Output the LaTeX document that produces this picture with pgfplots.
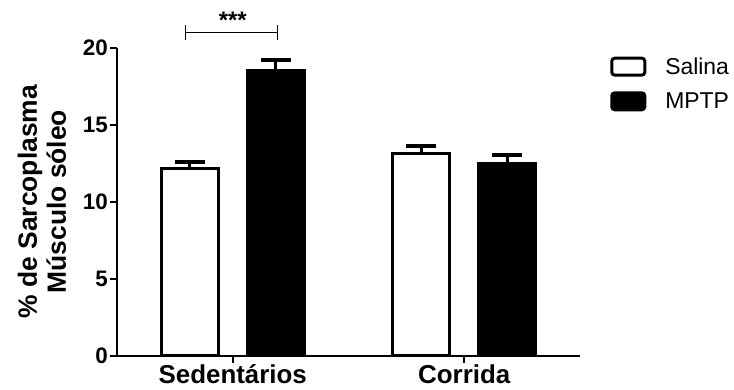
\documentclass[border=0pt]{standalone}
\usepackage{fontspec}
\setmainfont{Liberation Sans}
\usepackage{pgfplots}
\pgfplotsset{compat=1.18}
\begin{document}
\begin{tikzpicture}
\useasboundingbox (0,0) rectangle (734bp,390bp);
\begin{axis}[
  at={(117bp,34.3bp)}, anchor=south west,
  scale only axis, width=463bp, height=308bp,
  xmin=-0.5, xmax=1.5, ymin=0, ymax=20,
  axis x line=bottom, axis y line=left,
  axis line style={-, line width=2bp},
  xtick={0,1}, xticklabels={Sedentários,Corrida},
  ytick={0,5,10,15,20},
  tick align=outside, major tick length=7bp,
  tick style={line width=2bp, black},
  /pgf/number format/assume math mode=true,
  yticklabel style={font=\bfseries\fontsize{22.5}{22.5}\selectfont, inner sep=2bp},
  xticklabel style={font=\bfseries\fontsize{26}{26}\selectfont, inner sep=2bp},
  ylabel={\% de Sarcoplasma\\Músculo sóleo},
  ylabel style={at={(axis description cs:-0.162,0.5)}, anchor=center,
    align=center, font=\bfseries\fontsize{26.5}{29}\selectfont},
  ybar=29bp, bar width=57bp,
  clip=false,
  legend style={draw=none, fill=none, at={(axis description cs:1.065,0.975)}, anchor=north west,
    inner sep=0pt, row sep=13bp, column sep=17bp, font=\fontsize{23}{23}\selectfont,
    nodes={inner sep=2bp}},
  legend cell align=left,
  legend image code/.code={\draw[#1, line width=3bp, rounded corners=3bp] (0bp,-8.5bp) rectangle (33bp,8.5bp);},
  error bars/error bar style={line width=3bp, black},
  error bars/error mark options={rotate=90, line width=4bp, mark size=15bp, black},
]
\addplot[draw=black, fill=white, line width=3bp,
  error bars/.cd, y dir=plus, y explicit]
  coordinates {(0,12.15) +- (0,0.4) (1,13.1) +- (0,0.52)};
\addlegendentry{Salina}
\addplot[draw=black, fill=black, line width=3bp,
  error bars/.cd, y dir=plus, y explicit]
  coordinates {(0,18.55) +- (0,0.65) (1,12.45) +- (0,0.55)};
\addlegendentry{MPTP}
\draw[line width=0.9bp] (axis cs:-0.203,20.5) -- (axis cs:-0.203,21.5);
\draw[line width=0.9bp] (axis cs:0.195,20.5) -- (axis cs:0.195,21.5);
\draw[line width=0.9bp] (axis cs:-0.203,21) -- (axis cs:0.195,21);
\node[font=\bfseries\fontsize{24}{24}\selectfont] at (axis cs:0,21.75) {***};
\end{axis}
\end{tikzpicture}
\end{document}
